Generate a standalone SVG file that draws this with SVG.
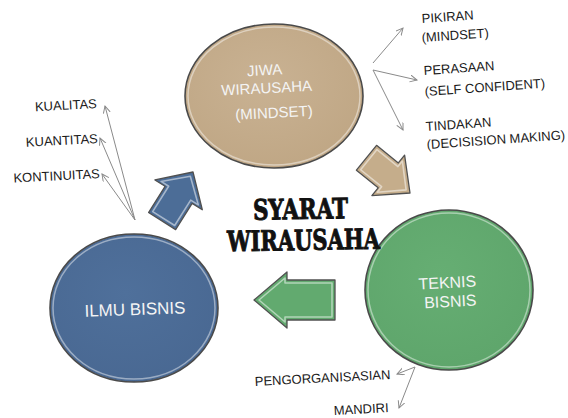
<svg xmlns="http://www.w3.org/2000/svg" width="568" height="418" viewBox="0 0 568 418">
  <defs>
    <marker id="open" markerUnits="userSpaceOnUse" markerWidth="10" markerHeight="10" refX="7" refY="3.5" orient="auto">
      <path d="M0,0 L7,3.5 L0,7" fill="none" stroke="#8a8a8a" stroke-width="1"/>
    </marker>
    <radialGradient id="gTan" cx="0.45" cy="0.4" r="0.65">
      <stop offset="0" stop-color="#C9B293"/>
      <stop offset="1" stop-color="#BFA684"/>
    </radialGradient>
    <radialGradient id="gBlue" cx="0.45" cy="0.4" r="0.65">
      <stop offset="0" stop-color="#4F709B"/>
      <stop offset="1" stop-color="#496892"/>
    </radialGradient>
    <radialGradient id="gGreen" cx="0.45" cy="0.4" r="0.65">
      <stop offset="0" stop-color="#66AE73"/>
      <stop offset="1" stop-color="#5EA56B"/>
    </radialGradient>
  </defs>
  <style>
    .rim { stroke: #4a4a4a; stroke-width: 1.6; }
    .hl { fill: none; stroke: #ffffff; stroke-opacity: 0.45; stroke-width: 1.5; }
    .ctext { font-family: "Liberation Sans", Arial, sans-serif; fill: #f4f4f4; text-anchor: middle; }
    .lbl { font-family: "Liberation Sans", Arial, sans-serif; font-size: 13px; fill: #1a1a1a; }
    .conn { fill: none; stroke: #8a8a8a; stroke-width: 1; marker-end: url(#open); }
    .arw { stroke: #505050; stroke-width: 1.3; stroke-linejoin: round; }
    .arwhl { fill: none; stroke: #ffffff; stroke-opacity: 0.5; stroke-width: 1.6; stroke-linejoin: round; }
    .title { font-family: "DejaVu Serif", "Liberation Serif", serif; font-weight: bold; font-size: 28px; fill: #111; stroke: #111; stroke-width: 1; }
  </style>

  <g id="node-jiwa">
    <ellipse cx="274" cy="96" rx="89" ry="72" fill="url(#gTan)" class="rim"/>
    <ellipse cx="274" cy="96" rx="86" ry="69" class="hl"/>
    <g transform="rotate(-3 270 95)">
      <text class="ctext" x="266" y="75" font-size="15">JIWA</text>
      <text class="ctext" x="267" y="93" font-size="15">WIRAUSAHA</text>
      <text class="ctext" x="273" y="118" font-size="15">(MINDSET)</text>
    </g>
  </g>

  <g id="node-ilmu">
    <ellipse cx="134" cy="308" rx="84" ry="74" fill="url(#gBlue)" class="rim"/>
    <ellipse cx="134" cy="308" rx="81" ry="71" class="hl"/>
    <text class="ctext" x="135" y="315" font-size="17" transform="rotate(-2 135 310)">ILMU BISNIS</text>
  </g>

  <g id="node-teknis">
    <ellipse cx="449" cy="290" rx="84" ry="80" fill="url(#gGreen)" class="rim"/>
    <ellipse cx="449" cy="290" rx="81" ry="77" class="hl"/>
    <g transform="rotate(-3 449 296)">
      <text class="ctext" x="448" y="288" font-size="16">TEKNIS</text>
      <text class="ctext" x="450" y="307" font-size="16">BISNIS</text>
    </g>
  </g>

  <g id="arrow-blue" transform="translate(193 172) rotate(-57.8)">
    <polygon class="arw" fill="#4C6D97" points="0,0 -27,-28 -27,-16 -58,-16 -58,16 -27,16 -27,28"/>
    <polygon class="arwhl" points="-5,0 -25,-22 -25,-13 -55,-13 -55,13 -25,13 -25,22"/>
  </g>

  <g id="arrow-tan" transform="translate(410 193) rotate(39)">
    <polygon class="arw" fill="#C5AD8B" points="0,0 -28,-26 -28,-16 -56,-16 -56,16 -28,16 -28,26"/>
    <polygon class="arwhl" points="-5,0 -26,-20 -26,-13 -53,-13 -53,13 -26,13 -26,20"/>
  </g>

  <g id="arrow-green" transform="translate(254 300) rotate(180)">
    <polygon class="arw" fill="#62AA6F" points="0,0 -33,-28 -33,-20 -81,-20 -81,20 -33,20 -33,28"/>
    <polygon class="arwhl" points="-5,0 -31,-22 -31,-17 -78,-17 -78,17 -31,17 -31,22"/>
  </g>

  <g id="title">
    <text class="title" x="253" y="219" textLength="95" lengthAdjust="spacingAndGlyphs" transform="rotate(-1 300 210)">SYARAT</text>
    <text class="title" x="227" y="250" textLength="153" lengthAdjust="spacingAndGlyphs" transform="rotate(-1 303 240)">WIRAUSAHA</text>
  </g>

  <g id="connectors">
    <line class="conn" x1="135" y1="220" x2="105" y2="106"/>
    <line class="conn" x1="135" y1="220" x2="100" y2="138"/>
    <line class="conn" x1="135" y1="220" x2="102" y2="174"/>
    <line class="conn" x1="373" y1="63" x2="403" y2="28"/>
    <line class="conn" x1="373" y1="70" x2="417" y2="80"/>
    <line class="conn" x1="373" y1="70" x2="403" y2="130"/>
    <line class="conn" x1="415" y1="367" x2="397" y2="374"/>
    <line class="conn" x1="415" y1="367" x2="399" y2="408"/>
  </g>

  <g id="labels-left">
    <text class="lbl" x="97" y="108" text-anchor="end" transform="rotate(-3 97 108)">KUALITAS</text>
    <text class="lbl" x="98" y="143" text-anchor="end" transform="rotate(-3 98 143)">KUANTITAS</text>
    <text class="lbl" x="100" y="178" text-anchor="end" transform="rotate(-3 100 178)">KONTINUITAS</text>
  </g>

  <g id="labels-right">
    <text class="lbl" x="422" y="23" transform="rotate(-4 422 23)">PIKIRAN</text>
    <text class="lbl" x="422" y="42" transform="rotate(-4 422 42)">(MINDSET)</text>
    <text class="lbl" x="424" y="75" transform="rotate(-4 424 75)">PERASAAN</text>
    <text class="lbl" x="425" y="96" transform="rotate(-4 425 96)">(SELF CONFIDENT)</text>
    <text class="lbl" x="426" y="131" transform="rotate(-4 426 131)">TINDAKAN</text>
    <text class="lbl" x="427" y="149" transform="rotate(-4 427 149)">(DECISISION MAKING)</text>
  </g>

  <g id="labels-bottom">
    <text class="lbl" x="255" y="386" font-size="12.5" transform="rotate(-3 255 386)">PENGORGANISASIAN</text>
    <text class="lbl" x="334" y="415" font-size="12.5" transform="rotate(-3 334 415)">MANDIRI</text>
  </g>
</svg>
